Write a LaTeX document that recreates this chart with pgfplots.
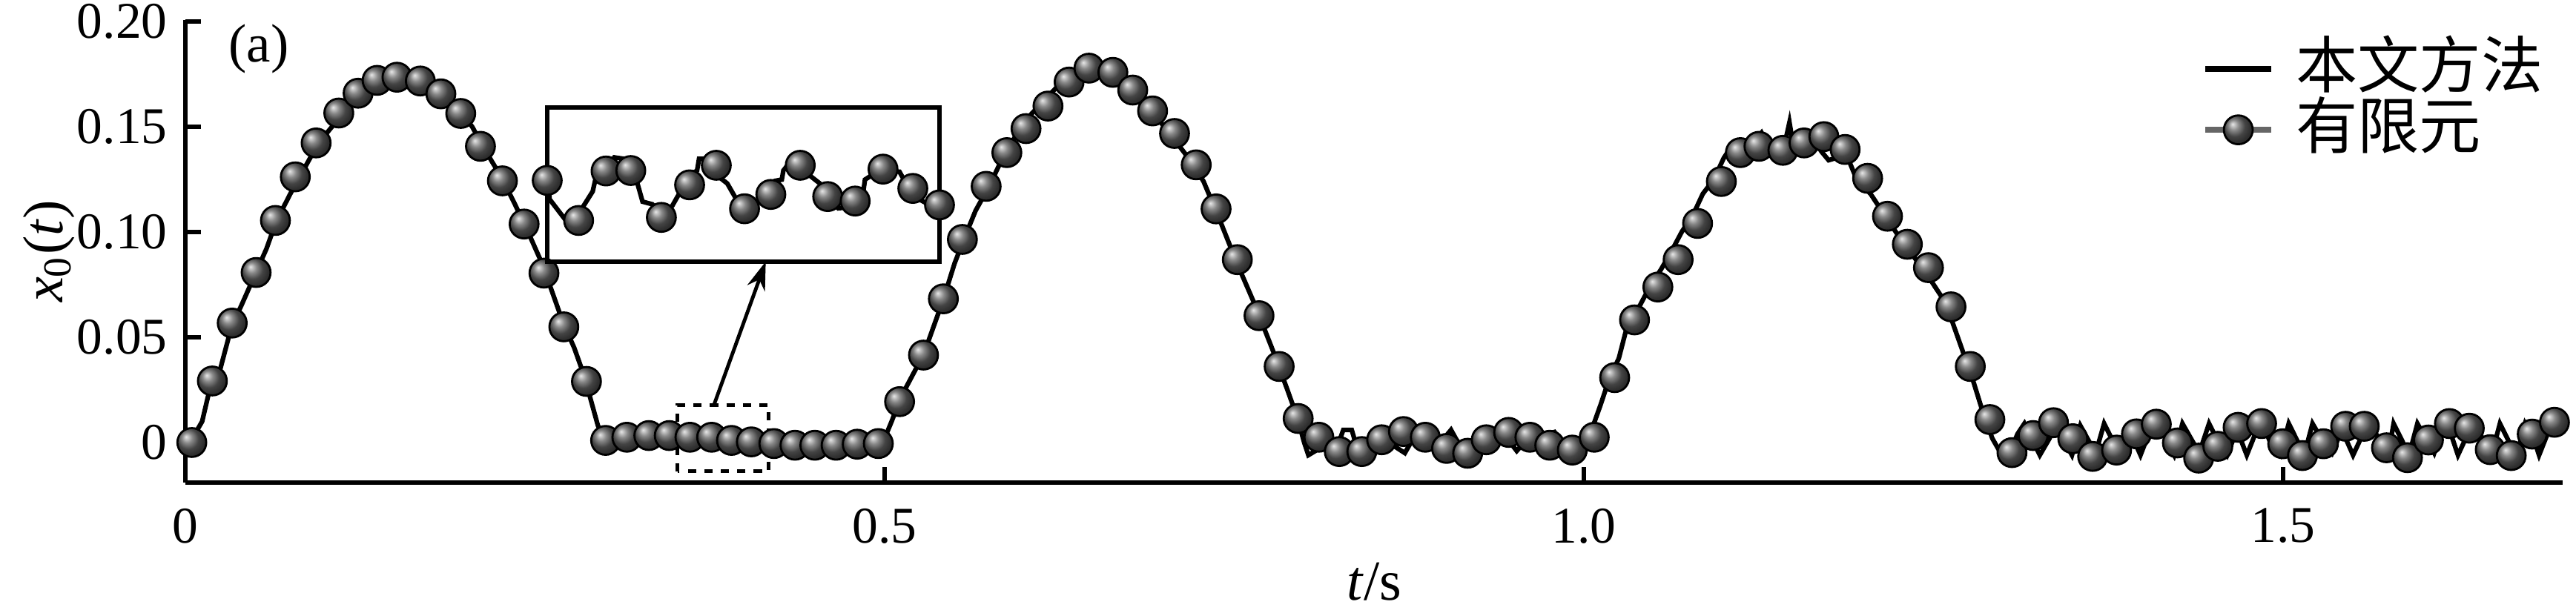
\documentclass[border=0pt]{standalone}
\usepackage{fontspec}
\setmainfont{Liberation Serif}
\newfontfamily\cjk{Noto Sans CJK SC}
\usepackage{pgfplots}
\usepackage{pgfplotstable}
\pgfplotsset{compat=1.18}
\usetikzlibrary{arrows.meta}

% proposed method (black line)
\pgfplotstableread{
x y
0.000 0.000
0.005 0.002
0.012 0.010
0.018 0.027
0.025 0.035
0.033 0.055
0.040 0.065
0.050 0.080
0.058 0.092
0.065 0.105
0.075 0.118
0.085 0.130
0.095 0.142
0.105 0.150
0.115 0.160
0.125 0.166
0.135 0.171
0.150 0.174
0.165 0.172
0.180 0.167
0.195 0.158
0.205 0.150
0.215 0.138
0.225 0.127
0.235 0.114
0.245 0.100
0.255 0.085
0.262 0.072
0.270 0.057
0.278 0.045
0.285 0.032
0.290 0.020
0.295 0.008
0.300 0.002
0.310 0.0005
0.320 0.001
0.330 -0.001
0.350 0.001
0.370 -0.001
0.390 0.0005
0.410 -0.001
0.430 0.000
0.450 -0.001
0.470 0.000
0.490 0.000
0.500 0.002
0.505 0.010
0.512 0.022
0.520 0.032
0.528 0.042
0.535 0.055
0.542 0.068
0.550 0.085
0.557 0.097
0.565 0.110
0.575 0.122
0.585 0.136
0.595 0.147
0.605 0.156
0.615 0.163
0.625 0.170
0.640 0.177
0.655 0.178
0.670 0.172
0.685 0.161
0.700 0.150
0.715 0.137
0.728 0.124
0.740 0.105
0.752 0.085
0.765 0.065
0.778 0.043
0.788 0.025
0.795 0.012
0.800 0.000
0.803 -0.006
0.808 -0.004
0.813 0.004
0.818 0.000
0.822 -0.005
0.828 0.006
0.834 0.006
0.838 -0.003
0.844 -0.004
0.850 0.005
0.858 0.004
0.865 -0.002
0.872 -0.005
0.878 0.002
0.885 0.003
0.893 -0.002
0.900 0.002
0.905 0.006
0.910 0.000
0.915 -0.004
0.925 0.001
0.935 0.004
0.945 0.002
0.952 -0.004
0.960 0.002
0.970 0.003
0.979 0.005
0.985 0.000
0.992 -0.003
1.000 0.000
1.005 0.005
1.012 0.018
1.018 0.030
1.025 0.040
1.032 0.058
1.040 0.065
1.048 0.075
1.055 0.082
1.062 0.090
1.070 0.100
1.078 0.108
1.085 0.118
1.093 0.125
1.100 0.135
1.105 0.140
1.115 0.139
1.122 0.143
1.127 0.147
1.132 0.140
1.138 0.141
1.143 0.140
1.147 0.152
1.150 0.140
1.160 0.142
1.165 0.143
1.170 0.138
1.175 0.134
1.180 0.135
1.190 0.133
1.195 0.125
1.205 0.118
1.215 0.108
1.225 0.098
1.235 0.089
1.245 0.080
1.255 0.070
1.262 0.060
1.270 0.045
1.278 0.030
1.285 0.015
1.292 0.002
1.298 -0.005
1.304 -0.006
1.310 0.004
1.315 0.009
1.320 0.002
1.326 -0.006
1.333 0.002
1.338 0.009
1.344 0.000
1.349 -0.006
1.355 0.008
1.360 0.002
1.366 -0.005
1.372 0.009
1.378 0.001
1.385 -0.006
1.392 0.003
1.398 -0.006
1.405 0.006
1.411 0.009
1.417 0.000
1.422 -0.006
1.428 0.009
1.434 0.002
1.440 -0.005
1.447 0.009
1.453 0.001
1.460 -0.006
1.467 0.006
1.474 -0.006
1.480 0.004
1.486 0.008
1.492 -0.002
1.498 -0.006
1.504 0.009
1.510 0.001
1.515 -0.006
1.521 0.009
1.528 0.001
1.535 -0.005
1.542 0.006
1.550 -0.006
1.557 0.004
1.563 0.008
1.570 0.000
1.575 -0.006
1.579 0.009
1.585 0.001
1.590 -0.006
1.596 0.009
1.602 0.002
1.608 -0.005
1.614 0.007
1.620 0.004
1.625 -0.006
1.632 0.004
1.638 0.008
1.644 0.000
1.649 -0.006
1.655 0.009
1.661 0.001
1.667 -0.006
1.673 0.009
1.679 0.002
1.683 -0.006
1.689 0.004
1.694 0.008
1.698 0.006
}\linedata

% finite element (ball markers)
\pgfplotstableread{
x y
0.0046 0.0000
0.0193 0.0292
0.0335 0.0567
0.0506 0.0807
0.0644 0.1054
0.0786 0.1261
0.0935 0.1422
0.1097 0.1564
0.1235 0.1658
0.1371 0.1719
0.1513 0.1734
0.1680 0.1716
0.1827 0.1655
0.1969 0.1562
0.2110 0.1406
0.2267 0.1242
0.2422 0.1037
0.2564 0.0804
0.2706 0.0549
0.2868 0.0290
0.3005 0.0010
0.3157 0.0025
0.3314 0.0033
0.3460 0.0033
0.3608 0.0025
0.3763 0.0025
0.3905 0.0010
0.4047 0.0003
0.4208 -0.0005
0.4359 -0.0013
0.4501 -0.0013
0.4653 -0.0013
0.4804 -0.0008
0.4955 -0.0005
0.5107 0.0194
0.5278 0.0415
0.5420 0.0682
0.5556 0.0964
0.5726 0.1216
0.5874 0.1376
0.6011 0.1490
0.6168 0.1597
0.6319 0.1711
0.6461 0.1777
0.6632 0.1757
0.6774 0.1673
0.6916 0.1574
0.7073 0.1467
0.7228 0.1318
0.7370 0.1109
0.7522 0.0868
0.7677 0.0602
0.7821 0.0361
0.7957 0.0114
0.8105 0.0025
0.8251 -0.0043
0.8412 -0.0043
0.8554 0.0013
0.8710 0.0052
0.8866 0.0025
0.9018 -0.0028
0.9169 -0.0051
0.9302 0.0013
0.9462 0.0048
0.9614 0.0025
0.9756 -0.0013
0.9917 -0.0036
1.0074 0.0025
1.0220 0.0308
1.0362 0.0582
1.0529 0.0738
1.0674 0.0868
1.0813 0.1040
1.0983 0.1239
1.1119 0.1376
1.1252 0.1406
1.1423 0.1387
1.1574 0.1422
1.1716 0.1452
1.1868 0.1391
1.2029 0.1254
1.2171 0.1074
1.2313 0.0941
1.2464 0.0830
1.2625 0.0644
1.2763 0.0361
1.2903 0.0109
1.3061 -0.0048
1.3212 0.0033
1.3358 0.0094
1.3496 0.0018
1.3638 -0.0066
1.3809 -0.0036
1.3951 0.0041
1.4093 0.0087
1.4244 -0.0002
1.4396 -0.0074
1.4533 -0.0018
1.4678 0.0072
1.4846 0.0090
1.4997 -0.0006
1.5138 -0.0062
1.5288 -0.0006
1.5447 0.0077
1.5580 0.0077
1.5739 -0.0025
1.5889 -0.0072
1.6039 0.0012
1.6189 0.0090
1.6331 0.0068
1.6481 -0.0034
1.6631 -0.0062
1.6781 0.0040
1.6940 0.0096
}\femdata

% inset (zoomed detail), relative coordinates inside the inset frame
\pgfplotstableread{
x y
0.003 0.524
0.006 0.405
0.044 0.279
0.061 0.253
0.091 0.355
0.116 0.456
0.122 0.524
0.150 0.591
0.171 0.676
0.217 0.659
0.230 0.507
0.243 0.389
0.268 0.372
0.291 0.296
0.319 0.363
0.336 0.439
0.361 0.557
0.382 0.591
0.387 0.667
0.431 0.667
0.442 0.541
0.459 0.507
0.480 0.414
0.503 0.346
0.543 0.389
0.581 0.524
0.598 0.532
0.602 0.591
0.615 0.633
0.645 0.642
0.670 0.557
0.695 0.507
0.717 0.422
0.742 0.346
0.772 0.355
0.805 0.439
0.810 0.532
0.831 0.566
0.856 0.591
0.898 0.583
0.911 0.524
0.941 0.414
0.966 0.380
0.996 0.372
}\insetline

\pgfplotstableread{
x y
0.000 0.527
0.080 0.267
0.150 0.588
0.213 0.591
0.291 0.287
0.363 0.498
0.431 0.625
0.503 0.343
0.570 0.436
0.645 0.625
0.715 0.422
0.785 0.393
0.856 0.600
0.932 0.475
1.000 0.368
}\insetfem

\begin{document}
\begin{tikzpicture}
\useasboundingbox (-36pt,-25.92pt) rectangle (464.26pt,93.74pt);
\begin{axis}[
  name=main, at={(0pt,0pt)}, anchor=south west,
  scale only axis, width=461.7pt, height=89.83pt,
  xmin=0, xmax=1.7, ymin=-0.019, ymax=0.2005,
  axis x line*=bottom, axis y line*=left,
  axis line style={line width=0.85pt, -},
  tick style={line width=0.85pt, black},
  tick align=inside, major tick length=3pt,
  xtick={0,0.5,1,1.5}, xticklabels={0,0.5,1.0,1.5},
  ytick={0,0.05,0.1,0.15,0.2}, yticklabels={0,0.05,0.10,0.15,0.20},
  tick label style={font=\fontsize{10}{11}\selectfont},
  xticklabel style={yshift=-1.5pt},
  xlabel={\textit{t}/s}, ylabel={\textit{x}\textsubscript{0}(\textit{t})},
  every axis x label/.style={at={([yshift=-19.3pt]rel axis cs:0.5,0)}, anchor=center,
    inner sep=0pt, font=\fontsize{11}{12}\selectfont},
  every axis y label/.style={at={([xshift=-26.5pt]rel axis cs:0,0.5)}, anchor=center,
    rotate=90, inner sep=0pt, font=\fontsize{11}{12}\selectfont},
  clip=false,
  legend style={draw=none, fill=none, at={(rel axis cs:0.848,0.962)}, anchor=north west,
    inner sep=0pt, row sep=0pt,
    nodes={inner sep=0pt, text height=9.5pt, text depth=2.3pt},
    font=\fontsize{12}{13}\selectfont\cjk,
    /tikz/every odd column/.append style={column sep=4.2pt}},
  legend cell align=left,
]
\addplot[black, line width=0.9pt,
  legend image code/.code={\draw[black, line width=1.2pt] (0pt,0pt) -- (12.7pt,0pt);}]
  table[x=x, y=y] {\linedata};
\addlegendentry{本文方法}
\addplot[only marks, mark=ball, mark size=2.8pt, mark options={ball color=black!62},
  legend image code/.code={\draw[black!60, line width=1.1pt] (0pt,0pt) -- (12.7pt,0pt);
     \draw[mark=ball, mark size=2.8pt, mark options={ball color=black!62}] plot coordinates {(6.35pt,0pt)};}]
  table[x=x, y=y] {\femdata};
\addlegendentry{有限元}
\node[font=\fontsize{10.5}{12}\selectfont] at (axis cs:0.0525,0.1868) {(a)};
\draw[dash pattern=on 1.6pt off 1.6pt, line width=0.7pt] (axis cs:0.352,-0.0137) rectangle (axis cs:0.417,0.0179);
\draw[line width=0.7pt, -{Stealth[length=5.5pt,width=3.6pt]}] (axis cs:0.378,0.0179) -- (axis cs:0.415,0.0859);
\end{axis}
\begin{axis}[
  at={(70.27pt,42.91pt)}, anchor=south west,
  scale only axis, width=76.18pt, height=29.95pt,
  xmin=0, xmax=1, ymin=0, ymax=1,
  ticks=none, axis line style={line width=0.85pt},
  clip=false,
]
\addplot[black, line width=0.9pt] table[x=x, y=y] {\insetline};
\addplot[only marks, mark=ball, mark size=2.8pt, mark options={ball color=black!62}] table[x=x, y=y] {\insetfem};
\end{axis}
\end{tikzpicture}
\end{document}
